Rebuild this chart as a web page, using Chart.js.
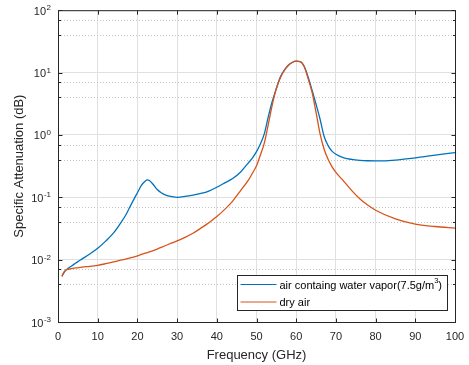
<!DOCTYPE html>
<html>
<head>
<meta charset="utf-8">
<script src="https://cdn.jsdelivr.net/npm/chart.js@4.4.0/dist/chart.umd.min.js"></script>
<style>
  html, body { margin: 0; padding: 0; background: #fff; }
  canvas { display: block; }
</style>
</head>
<body>
<canvas id="attenChart" width="469" height="365"></canvas>
<script>
// --- data ---
const freqGHz = [1, 1.5, 2, 2.5, 3, 4, 5, 6, 8, 10, 12, 14, 16, 17, 18, 19, 20, 21, 22, 22.5, 23, 24, 25, 26, 27, 28,
    30, 32, 34, 36, 38, 40, 42, 44, 46, 48, 49, 50, 51, 52, 53, 54, 55, 56, 57, 58, 59, 60, 61, 62, 63, 64, 65,
    66, 67, 68, 69, 70, 72, 74, 76, 78, 80, 85, 90, 95, 100];
const wetAtten = [0.0054, 0.0062, 0.0068, 0.0072, 0.0076, 0.0084, 0.0093, 0.0102, 0.0123, 0.0152, 0.0198, 0.0268,
    0.0405, 0.051, 0.068, 0.09, 0.118, 0.155, 0.183, 0.19, 0.186, 0.16, 0.133, 0.118, 0.109, 0.104,
    0.1, 0.103, 0.108, 0.115, 0.126, 0.145, 0.17, 0.2, 0.255, 0.36, 0.43, 0.54, 0.72, 1.06, 2.0, 3.5, 5.5,
    8.5, 10.9, 13.1, 14.5, 15.2, 15.0, 12.6, 8.5, 5.2, 3.1, 1.8, 0.96, 0.68, 0.55, 0.49, 0.43, 0.405, 0.392,
    0.385, 0.383, 0.395, 0.43, 0.475, 0.52];
const dryAtten = [0.0054, 0.0063, 0.0068, 0.007, 0.0071, 0.0073, 0.0074, 0.0076, 0.0078, 0.0081, 0.0086, 0.0092,
    0.0099, 0.0102, 0.0106, 0.011, 0.0115, 0.0121, 0.0127, 0.013, 0.0133, 0.014, 0.0148, 0.0157, 0.0167, 0.0178,
    0.02, 0.0228, 0.0265, 0.032, 0.039, 0.049, 0.064, 0.087, 0.128, 0.19, 0.245, 0.32, 0.48, 0.75, 1.5, 3.1, 5.6,
    8.2, 10.8, 13.0, 14.5, 15.2, 15.0, 12.5, 8.0, 4.8, 2.3, 1.05, 0.6, 0.41, 0.31, 0.25, 0.18, 0.128, 0.095,
    0.075, 0.062, 0.045, 0.037, 0.034, 0.032];
const xTicks = [0, 10, 20, 30, 40, 50, 60, 70, 80, 90, 100];
const yDecades = [1e-3, 1e-2, 1e-1, 1, 10, 100];
const seriesLabels = ['air containg water vapor(7.5g/m^3)', 'dry air'];
const seriesColors = ['#0072BD', '#D95319'];

const FONT = '"Liberation Sans", Arial, Helvetica, sans-serif';
const AXIS_COLOR = '#262626';

function isDecade(v) {
    const e = Math.log10(v);
    return Math.abs(e - Math.round(e)) < 1e-9;
}

// MATLAB-ish axes: dotted minor grid, boxed axes with inward ticks, 10^n labels, legend
const matlabAxes = {
    id: 'matlabAxes',
    beforeDatasetsDraw(chart) {
        const { ctx, chartArea: a, scales: { y } } = chart;
        ctx.save();
        ctx.strokeStyle = '#c6c6c6';
        ctx.lineWidth = 1;
        ctx.setLineDash([1, 2]);
        y.ticks.forEach(t => {
            if (isDecade(t.value)) return;
            const py = Math.round(y.getPixelForValue(t.value)) + 0.5;
            ctx.beginPath();
            ctx.moveTo(a.left, py);
            ctx.lineTo(a.right, py);
            ctx.stroke();
        });
        ctx.restore();
    },
    afterDatasetsDraw(chart) {
        const { ctx, chartArea: a, scales: { x, y } } = chart;
        const L = a.left + 0.5, R = a.right + 0.5, T = a.top + 0.5, B = a.bottom + 0.5;
        ctx.save();
        ctx.strokeStyle = AXIS_COLOR;
        ctx.lineWidth = 1;
        ctx.strokeRect(L, T, R - L, B - T);

        ctx.beginPath();
        xTicks.forEach(v => {
            const px = Math.round(x.getPixelForValue(v)) + 0.5;
            ctx.moveTo(px, B); ctx.lineTo(px, B - 4);
            ctx.moveTo(px, T); ctx.lineTo(px, T + 4);
        });
        y.ticks.forEach(t => {
            const py = Math.round(y.getPixelForValue(t.value)) + 0.5;
            const len = isDecade(t.value) ? 4 : 2.5;
            ctx.moveTo(L, py); ctx.lineTo(L + len, py);
            ctx.moveTo(R, py); ctx.lineTo(R - len, py);
        });
        ctx.stroke();

        // y tick labels as 10 with superscript exponent
        ctx.fillStyle = AXIS_COLOR;
        ctx.textAlign = 'right';
        ctx.textBaseline = 'alphabetic';
        yDecades.forEach(v => {
            const py = y.getPixelForValue(v);
            const exp = String(Math.round(Math.log10(v)));
            ctx.font = '8px ' + FONT;
            const ew = ctx.measureText(exp).width;
            const rx = a.left - 7;
            ctx.fillText(exp, rx, py);
            ctx.font = '11px ' + FONT;
            ctx.fillText('10', rx - ew - 0.5, py + 4.5);
        });
        ctx.restore();
    },
    afterDraw(chart) {
        const { ctx, chartArea: a } = chart;
        ctx.save();
        const mainFont = '11px ' + FONT;
        const supFont = '7.5px ' + FONT;
        const parts = seriesLabels.map(s => {
            const m = s.match(/^(.*)\^(\w)(.*)$/);
            return m ? [m[1], m[2], m[3]] : [s, '', ''];
        });
        const widths = parts.map(p => {
            ctx.font = mainFont;
            let w = ctx.measureText(p[0]).width + ctx.measureText(p[2]).width;
            ctx.font = supFont;
            w += ctx.measureText(p[1]).width;
            return w;
        });
        const sample = 36;
        const boxW = Math.ceil(3 + sample + 4 + Math.max(...widths) + 4);
        const boxH = 35;
        const bx = Math.round(a.right - 8 - boxW) + 0.5;
        const by = Math.round(a.bottom - 12 - boxH) + 0.5;
        ctx.fillStyle = '#fff';
        ctx.fillRect(bx, by, boxW, boxH);
        ctx.strokeStyle = AXIS_COLOR;
        ctx.lineWidth = 1;
        ctx.strokeRect(bx, by, boxW, boxH);

        parts.forEach((p, i) => {
            const ry = by + 9 + i * 17.5;
            ctx.strokeStyle = seriesColors[i];
            ctx.lineWidth = 1.2;
            ctx.beginPath();
            ctx.moveTo(bx + 3, ry);
            ctx.lineTo(bx + 3 + sample, ry);
            ctx.stroke();
            ctx.fillStyle = '#000';
            ctx.textAlign = 'left';
            ctx.textBaseline = 'alphabetic';
            let tx = bx + 3 + sample + 3;
            ctx.font = mainFont;
            ctx.fillText(p[0], tx, ry + 4);
            tx += ctx.measureText(p[0]).width;
            if (p[1]) {
                ctx.font = supFont;
                ctx.fillText(p[1], tx, ry - 1.5);
                tx += ctx.measureText(p[1]).width;
                ctx.font = mainFont;
                ctx.fillText(p[2], tx, ry + 4);
            }
        });
        ctx.restore();
    }
};

const ctx = document.getElementById('attenChart').getContext('2d');
const attenChart = new Chart(ctx, {
    type: 'line',
    data: {
        datasets: [{
            label: seriesLabels[0],
            data: freqGHz.map((f, i) => ({ x: f, y: wetAtten[i] })),
            borderColor: seriesColors[0],
            order: 1
        }, {
            label: seriesLabels[1],
            data: freqGHz.map((f, i) => ({ x: f, y: dryAtten[i] })),
            borderColor: seriesColors[1],
            order: 0
        }]
    },
    options: {
        responsive: false,
        animation: false,
        layout: { padding: { top: 10, right: 14, left: 0, bottom: 0 } },
        elements: {
            point: { radius: 0 },
            line: { borderWidth: 1.3, cubicInterpolationMode: 'monotone', fill: false }
        },
        plugins: {
            legend: { display: false },
            tooltip: { enabled: false }
        },
        scales: {
            x: {
                type: 'linear',
                min: 0,
                max: 100,
                afterBuildTicks: scale => { scale.ticks = xTicks.map(v => ({ value: v })); },
                afterFit: scale => {
                    scale.height = 43;
                    scale.paddingLeft = 0;
                    scale.paddingRight = 0;
                },
                grid: { color: '#e0e0e0', drawTicks: false },
                border: { display: false },
                ticks: {
                    padding: 8,
                    maxRotation: 0,
                    color: AXIS_COLOR,
                    font: { family: FONT, size: 11 }
                },
                title: {
                    display: true,
                    text: 'Frequency (GHz)',
                    color: AXIS_COLOR,
                    font: { family: FONT, size: 13 },
                    padding: { top: 0, bottom: 2 }
                }
            },
            y: {
                type: 'logarithmic',
                min: 1e-3,
                max: 100,
                afterBuildTicks: scale => {
                    const t = [];
                    for (let k = -3; k < 2; k++) {
                        for (let m = 1; m < 10; m++) t.push({ value: m * Math.pow(10, k) });
                    }
                    t.push({ value: 100 });
                    scale.ticks = t;
                },
                afterFit: scale => { scale.width = 58; },
                grid: {
                    drawTicks: false,
                    color: c => (c.tick && isDecade(c.tick.value)) ? '#e0e0e0' : 'rgba(0,0,0,0)'
                },
                border: { display: false },
                ticks: { callback: () => '' },
                title: {
                    display: true,
                    text: 'Specific Attenuation (dB)',
                    color: AXIS_COLOR,
                    font: { family: FONT, size: 13 },
                    padding: { top: 12, bottom: 0 }
                }
            }
        }
    },
    plugins: [matlabAxes]
});
</script>
</body>
</html>
